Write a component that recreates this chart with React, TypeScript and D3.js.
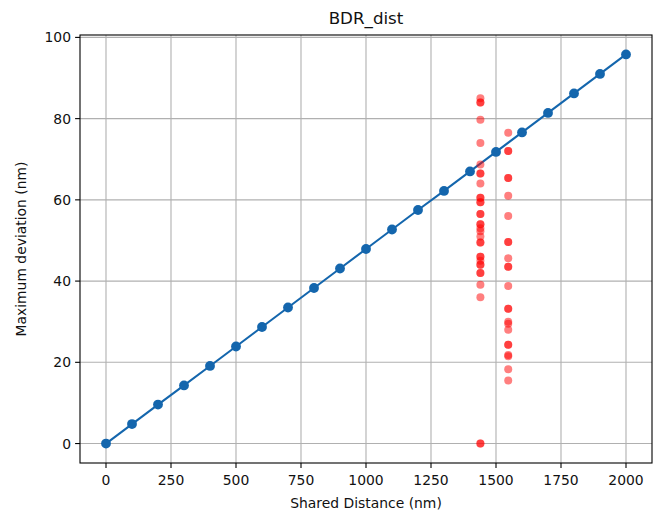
import React from "react";
import * as d3 from "d3";

const lineX = [0, 100, 200, 300, 400, 500, 600, 700, 800, 900, 1000, 1100, 1200, 1300, 1400, 1500, 1600, 1700, 1800, 1900, 2000];
const lineY = [0, 4.8, 9.6, 14.3, 19.1, 23.9, 28.7, 33.5, 38.3, 43.1, 47.9, 52.7, 57.5, 62.2, 67.0, 71.8, 76.6, 81.4, 86.2, 91.0, 95.8];

const scatterX1 = 1440;
const scatterY1 = [85.0, 84.0, 84.0, 79.7, 74.0, 68.7, 66.5, 66.5, 64.0, 60.5, 60.5, 59.4, 59.4, 56.5, 56.5, 54.0, 54.0, 53.0, 52.3, 51.0, 49.5, 49.5, 46.0, 46.0, 45.0, 44.0, 44.0, 42.0, 42.0, 39.1, 36.0, 0, 0];
const scatterX2 = 1547;
const scatterY2 = [76.5, 72.0, 72.0, 65.4, 65.4, 61.0, 56.0, 49.6, 49.6, 45.6, 43.5, 43.5, 38.8, 33.2, 33.2, 30.0, 29.5, 28.0, 24.3, 24.3, 21.8, 21.5, 18.3, 15.5];

const xTicks = [0, 250, 500, 750, 1000, 1250, 1500, 1750, 2000];
const yTicks = [0, 20, 40, 60, 80, 100];

const title = "BDR_dist";
const xLabel = "Shared Distance (nm)";
const yLabel = "Maximum deviation (nm)";

export default function App() {
  const W = 659, H = 515;
  const L = 80, R = 652, T = 35, B = 463;
  const x = d3.scaleLinear().domain([-100, 2100]).range([L, R]);
  const y = d3.scaleLinear().domain([-4.79, 100.59]).range([B, T]);
  const line = d3.line<number>().x((_, i) => x(lineX[i])).y((d) => y(d));
  const font = "DejaVu Sans, sans-serif";
  const blue = "#1466ad";
  const pts = [
    ...scatterY1.map((v) => [scatterX1, v]),
    ...scatterY2.map((v) => [scatterX2, v]),
  ];
  return (
    <svg width={W} height={H} style={{ position: "absolute", left: 0, top: 0, background: "#fff" }} fontFamily={font}>
      <rect x={0} y={0} width={W} height={H} fill="#fff" />
      {xTicks.map((t) => (
        <line key={"gx" + t} x1={x(t)} x2={x(t)} y1={T} y2={B} stroke="#b0b0b0" strokeWidth={1.1} />
      ))}
      {yTicks.map((t) => (
        <line key={"gy" + t} x1={L} x2={R} y1={y(t)} y2={y(t)} stroke="#b0b0b0" strokeWidth={1.1} />
      ))}
      <path d={line(lineY) || ""} fill="none" stroke={blue} strokeWidth={2.1} />
      {lineY.map((v, i) => (
        <circle key={"b" + i} cx={x(lineX[i])} cy={y(v)} r={4.9} fill={blue} />
      ))}
      {pts.map((p, i) => (
        <circle key={"r" + i} cx={x(p[0])} cy={y(p[1])} r={4} fill="#ff0000" fillOpacity={0.5} />
      ))}
      <rect x={L} y={T} width={R - L} height={B - T} fill="none" stroke="#000" strokeWidth={1.1} />
      {xTicks.map((t) => (
        <g key={"tx" + t}>
          <line x1={x(t)} x2={x(t)} y1={B} y2={B + 4.9} stroke="#000" strokeWidth={1.1} />
          <text x={x(t)} y={B + 22} textAnchor="middle" fontSize={13.9} fill="#111">{t}</text>
        </g>
      ))}
      {yTicks.map((t) => (
        <g key={"ty" + t}>
          <line x1={L - 4.9} x2={L} y1={y(t)} y2={y(t)} stroke="#000" strokeWidth={1.1} />
          <text x={L - 9} y={y(t) + 5} textAnchor="end" fontSize={13.9} fill="#111">{t}</text>
        </g>
      ))}
      <text x={(L + R) / 2} y={508} textAnchor="middle" fontSize={13.9} fill="#111">{xLabel}</text>
      <text transform={`translate(26,${(T + B) / 2}) rotate(-90)`} textAnchor="middle" fontSize={13.9} fill="#111">{yLabel}</text>
      <text x={(L + R) / 2} y={24} textAnchor="middle" fontSize={16.7} fill="#111">{title}</text>
    </svg>
  );
}
